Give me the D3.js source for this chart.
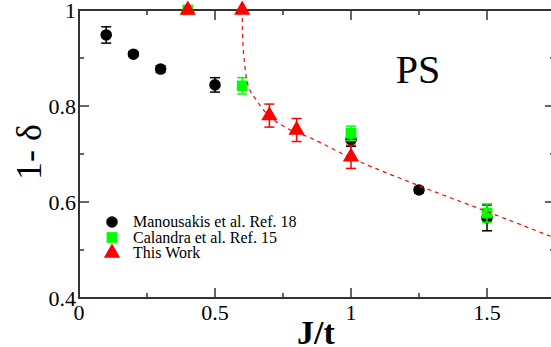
<!DOCTYPE html>
<html>
<head>
<meta charset="utf-8">
<script src="https://cdn.jsdelivr.net/npm/d3@7"></script>
</head>
<body style="margin:0">
<svg id="s" width="551" height="347"></svg>
<script>
// Manousakis et al. Ref. 18
const manJ = [0.1, 0.2, 0.3, 0.5, 1.0, 1.25, 1.5];
const manV = [0.948, 0.908, 0.877, 0.844, 0.730, 0.625, 0.567];
const manE = [0.017, 0.005, 0.007, 0.015, 0.014, 0.006, 0.027];

// Calandra et al. Ref. 15
const calJ = [0.4, 0.6, 1.0, 1.5];
const calV = [1.0, 0.842, 0.743, 0.577];
const calE = [0.0, 0.017, 0.015, 0.019];

// This Work
const thisJ = [0.4, 0.6, 0.7, 0.8, 1.0];
const thisV = [1.0, 1.0, 0.780, 0.750, 0.694];
const thisE = [0.0, 0.0, 0.024, 0.024, 0.024];

// dashed fit line
const fitJ = [0.6, 0.601, 0.61, 0.62, 0.653, 0.678, 0.764, 0.849, 1.0, 1.25, 1.5, 1.75];
const fitV = [1.0, 0.952, 0.882, 0.847, 0.812, 0.792, 0.754, 0.734, 0.692, 0.634, 0.580, 0.525];

const xTicks = [0, 0.5, 1, 1.5];
const xMinor = [0.25, 0.75, 1.25, 1.75];
const yTicks = [0.4, 0.6, 0.8, 1];
const yMinor = [0.5, 0.7, 0.9];
const legendLabels = ["Manousakis et al. Ref. 18", "Calandra et al. Ref. 15", "This Work"];

const faces = ["Liberation Serif"];

const svg = d3.select("#s");
const plotL = 79, plotT = 10, plotR = 555, plotB = 298;

const x = d3.scaleLinear().domain([0, 1.75]).range([plotL, plotR]);
const y = d3.scaleLinear().domain([0.4, 1]).range([plotB, plotT]);

const axisColor = "#333";

// all text goes through here so the serif face is set on each element
function label(parent, size){
  return parent.append("text")
    .attr("font-size", size)
    .style("font-family", () => `"${faces[0]}"`);
}

// ticks, pointing inward on all four sides
function drawTicks(){
  const g = svg.append("g").attr("stroke", axisColor).attr("stroke-width", 1.5);
  xTicks.forEach(v => {
    g.append("line").attr("x1", x(v)).attr("x2", x(v)).attr("y1", plotB).attr("y2", plotB - 10);
    g.append("line").attr("x1", x(v)).attr("x2", x(v)).attr("y1", plotT).attr("y2", plotT + 10);
  });
  xMinor.forEach(v => {
    g.append("line").attr("x1", x(v)).attr("x2", x(v)).attr("y1", plotB).attr("y2", plotB - 5);
    g.append("line").attr("x1", x(v)).attr("x2", x(v)).attr("y1", plotT).attr("y2", plotT + 5);
  });
  yTicks.forEach(v => {
    g.append("line").attr("x1", plotL).attr("x2", plotL + 10).attr("y1", y(v)).attr("y2", y(v));
    g.append("line").attr("x1", plotR).attr("x2", plotR - 10).attr("y1", y(v)).attr("y2", y(v));
  });
  yMinor.forEach(v => {
    g.append("line").attr("x1", plotL).attr("x2", plotL + 5).attr("y1", y(v)).attr("y2", y(v));
    g.append("line").attr("x1", plotR).attr("x2", plotR - 5).attr("y1", y(v)).attr("y2", y(v));
  });
}
drawTicks();

svg.append("rect")
  .attr("x", plotL).attr("y", plotT)
  .attr("width", plotR - plotL).attr("height", plotB - plotT)
  .attr("fill", "none").attr("stroke", axisColor).attr("stroke-width", 2);

// tick labels
const tickG = svg.append("g");
xTicks.forEach(v => {
  label(tickG, 22).attr("x", x(v)).attr("y", plotB + 22)
    .attr("text-anchor", "middle").text(String(v));
});
yTicks.forEach(v => {
  label(tickG, 22).attr("x", plotL - 3).attr("y", y(v) + 8)
    .attr("text-anchor", "end").text(String(v));
});

// axis titles
label(svg, 36)
  .attr("transform", `translate(41, 152) rotate(-90)`)
  .attr("text-anchor", "middle")
  .text("1- δ");
label(svg, 34)
  .attr("x", 316).attr("y", 344)
  .attr("text-anchor", "middle").attr("font-weight", "bold")
  .text("J/t");

label(svg, 40)
  .attr("x", 418).attr("y", 83)
  .attr("text-anchor", "middle")
  .text("PS");

// error bars
function errorBars(js, vs, es, color){
  const g = svg.append("g").attr("stroke", color).attr("stroke-width", 1.5);
  js.forEach((j, i) => {
    if (es[i] <= 0) return;
    const cx = x(j), y0 = y(vs[i] - es[i]), y1 = y(vs[i] + es[i]);
    g.append("line").attr("x1", cx).attr("x2", cx).attr("y1", y0).attr("y2", y1);
    g.append("line").attr("x1", cx - 5).attr("x2", cx + 5).attr("y1", y0).attr("y2", y0);
    g.append("line").attr("x1", cx - 5).attr("x2", cx + 5).attr("y1", y1).attr("y2", y1);
  });
}

const symCircle = d3.symbol().type(d3.symbolCircle).size(105);
const symSquare = d3.symbol().type(d3.symbolSquare).size(115);
const symTriangle = d3.symbol().type(d3.symbolTriangle).size(115);

function markers(js, vs, sym, color){
  svg.append("g").selectAll("path").data(js).join("path")
    .attr("transform", (d, i) => `translate(${x(d)},${y(vs[i])})`)
    .attr("d", sym)
    .attr("fill", color);
}

errorBars(manJ, manV, manE, "#000");
markers(manJ, manV, symCircle, "#000");
errorBars(calJ, calV, calE, "#00ff00");
markers(calJ, calV, symSquare, "#00ff00");
errorBars(thisJ, thisV, thisE, "#ff0000");
markers(thisJ, thisV, symTriangle, "#ff0000");

// dashed fit
const fitLine = d3.line()
  .x(d => x(d[0])).y(d => y(d[1]))
  .curve(d3.curveMonotoneX);
svg.append("path")
  .datum(fitJ.map((j, i) => [j, fitV[i]]))
  .attr("d", fitLine)
  .attr("fill", "none").attr("stroke", "#ff0000").attr("stroke-width", 1.2)
  .attr("stroke-dasharray", "4,4");

// legend
const legendSyms = [symCircle, symSquare, symTriangle];
const legendColors = ["#000", "#00ff00", "#ff0000"];
const leg = svg.append("g");
legendLabels.forEach((txt, i) => {
  const ly = 222 + i * 15.5;
  leg.append("path")
    .attr("transform", `translate(112,${ly})`)
    .attr("d", legendSyms[i])
    .attr("fill", legendColors[i]);
  label(leg, 16).attr("x", 133).attr("y", ly + 5).text(txt);
});
</script>
</body>
</html>
